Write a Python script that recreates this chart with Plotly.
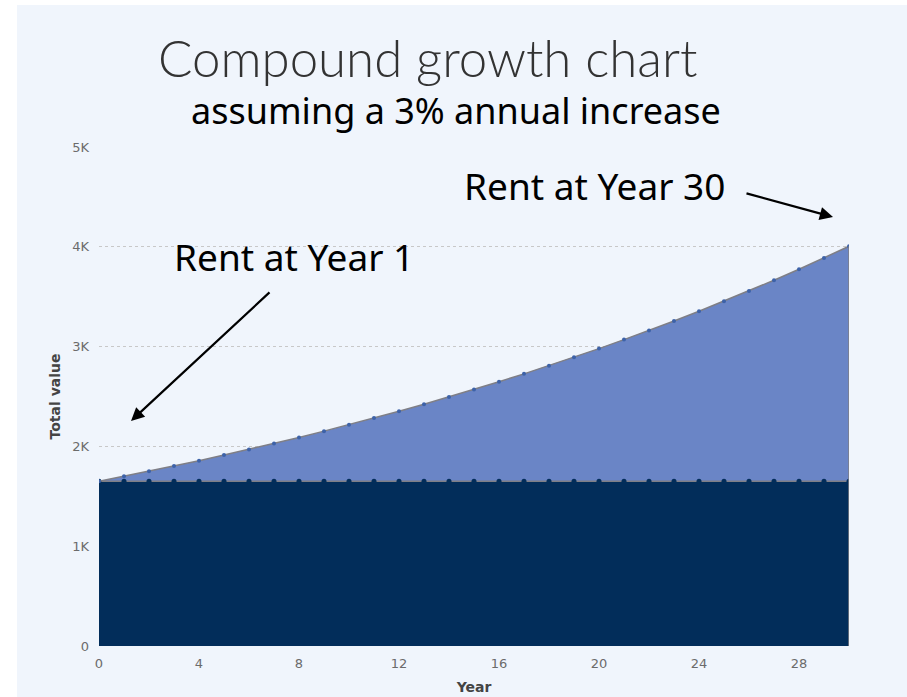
import plotly.graph_objects as go

# Year index and monthly rent under a 3% annual increase
years = list(range(0, 31))
rent = [1650, 1700, 1751, 1803, 1857, 1913, 1970, 2029, 2090, 2153,
        2218, 2284, 2353, 2423, 2496, 2571, 2648, 2727, 2809, 2893,
        2980, 3070, 3162, 3256, 3354, 3455, 3558, 3665, 3775, 3888, 4005]
# Starting rent held flat across the whole period
base_rent = [1650] * len(years)

x_ticks = [0, 4, 8, 12, 16, 20, 24, 28]
y_ticks = [0, 1000, 2000, 3000, 4000, 5000]
y_tick_text = ["0", "1K", "2K", "3K", "4K", "5K"]

W, H = 907, 697
L, R, T, B = 99, 58, 147, 51
PW, PH = W - L - R, H - T - B


def px(xp, yp):
    """Pixel position on the page -> paper coordinates."""
    return (xp - L) / PW, (H - B - yp) / PH


NAVY = "#022d5a"
LIGHT = "#6a85c6"
EDGE = "#7f7f86"
PANEL = "#f0f5fc"

fig = go.Figure()

fig.add_trace(go.Scatter(
    x=years, y=base_rent, mode="lines+markers", fill="tozeroy",
    fillcolor=NAVY, line=dict(color=EDGE, width=1.5),
    marker=dict(color=NAVY, size=5), hoverinfo="x+y", name="Base",
))
fig.add_trace(go.Scatter(
    x=years, y=rent, mode="lines+markers", fill="tonexty",
    fillcolor=LIGHT, line=dict(color=EDGE, width=1.5),
    marker=dict(color="#3d62a8", size=4), hoverinfo="x+y", name="Rent",
))
# Outline on the right edge of the stacked area
fig.add_trace(go.Scatter(
    x=[years[-1], years[-1]], y=[0, rent[-1]], mode="lines",
    line=dict(color=EDGE, width=1.5), hoverinfo="skip",
))

x0, y0 = px(17, 697)
x1, y1 = px(907, 5)
shapes = [dict(type="rect", xref="paper", yref="paper", x0=x0, x1=x1,
               y0=y0, y1=y1, fillcolor=PANEL, line=dict(width=0),
               layer="below")]


def label(xp, yp, text, font):
    tx, ty = px(xp, yp)
    return dict(x=tx, y=ty, xref="paper", yref="paper", showarrow=False,
                xanchor="center", yanchor="middle", text=text, font=font)


annotations = [
    label(428, 57, "Compound growth chart",
          dict(family="Lato", size=51, color="#333333", weight=300)),
    label(456, 110, "assuming a 3% annual increase",
          dict(family="Noto Sans", size=36, color="#000000")),
    label(294, 256, "Rent at Year 1",
          dict(family="Noto Sans", size=37, color="#000000")),
    label(594, 185, "Rent at Year 30",
          dict(family="Noto Sans", size=37, color="#000000")),
]
# Arrows
hx, hy = px(131, 421)
annotations.append(dict(
    x=hx, y=hy, xref="paper", yref="paper", text="", showarrow=True,
    ax=271 - 131, ay=291 - 421, arrowhead=2, arrowsize=1.2,
    arrowwidth=2.2, arrowcolor="#000000",
))
hx, hy = px(833, 217)
annotations.append(dict(
    x=hx, y=hy, xref="paper", yref="paper", text="", showarrow=True,
    ax=745 - 833, ay=193 - 217, arrowhead=2, arrowsize=1.2,
    arrowwidth=2.2, arrowcolor="#000000",
))

fig.update_layout(
    width=W, height=H,
    margin=dict(l=L, r=R, t=T, b=B, pad=0),
    paper_bgcolor="#ffffff", plot_bgcolor=PANEL,
    showlegend=False,
    shapes=shapes, annotations=annotations,
    xaxis=dict(
        range=[0, 30], tickvals=x_ticks, showgrid=False, zeroline=False,
        showline=False, ticks="", ticklabelstandoff=8, automargin=False,
        tickfont=dict(family="DejaVu Sans", size=13, color="#6b6b6b"),
        title=dict(text="<b>Year</b>", standoff=12,
                   font=dict(family="DejaVu Sans", size=14, color="#444444")),
    ),
    yaxis=dict(
        range=[0, 5000], tickvals=y_ticks, ticktext=y_tick_text,
        showgrid=True, gridcolor="#c8c8c8", griddash="dot", gridwidth=1,
        zeroline=False, showline=False, ticks="", ticklabelstandoff=9,
        automargin=False,
        tickfont=dict(family="DejaVu Sans", size=13, color="#6b6b6b"),
        title=dict(text="<b>Total value</b>", standoff=8,
                   font=dict(family="DejaVu Sans", size=14, color="#444444")),
    ),
)

fig.write_html("out.html")
